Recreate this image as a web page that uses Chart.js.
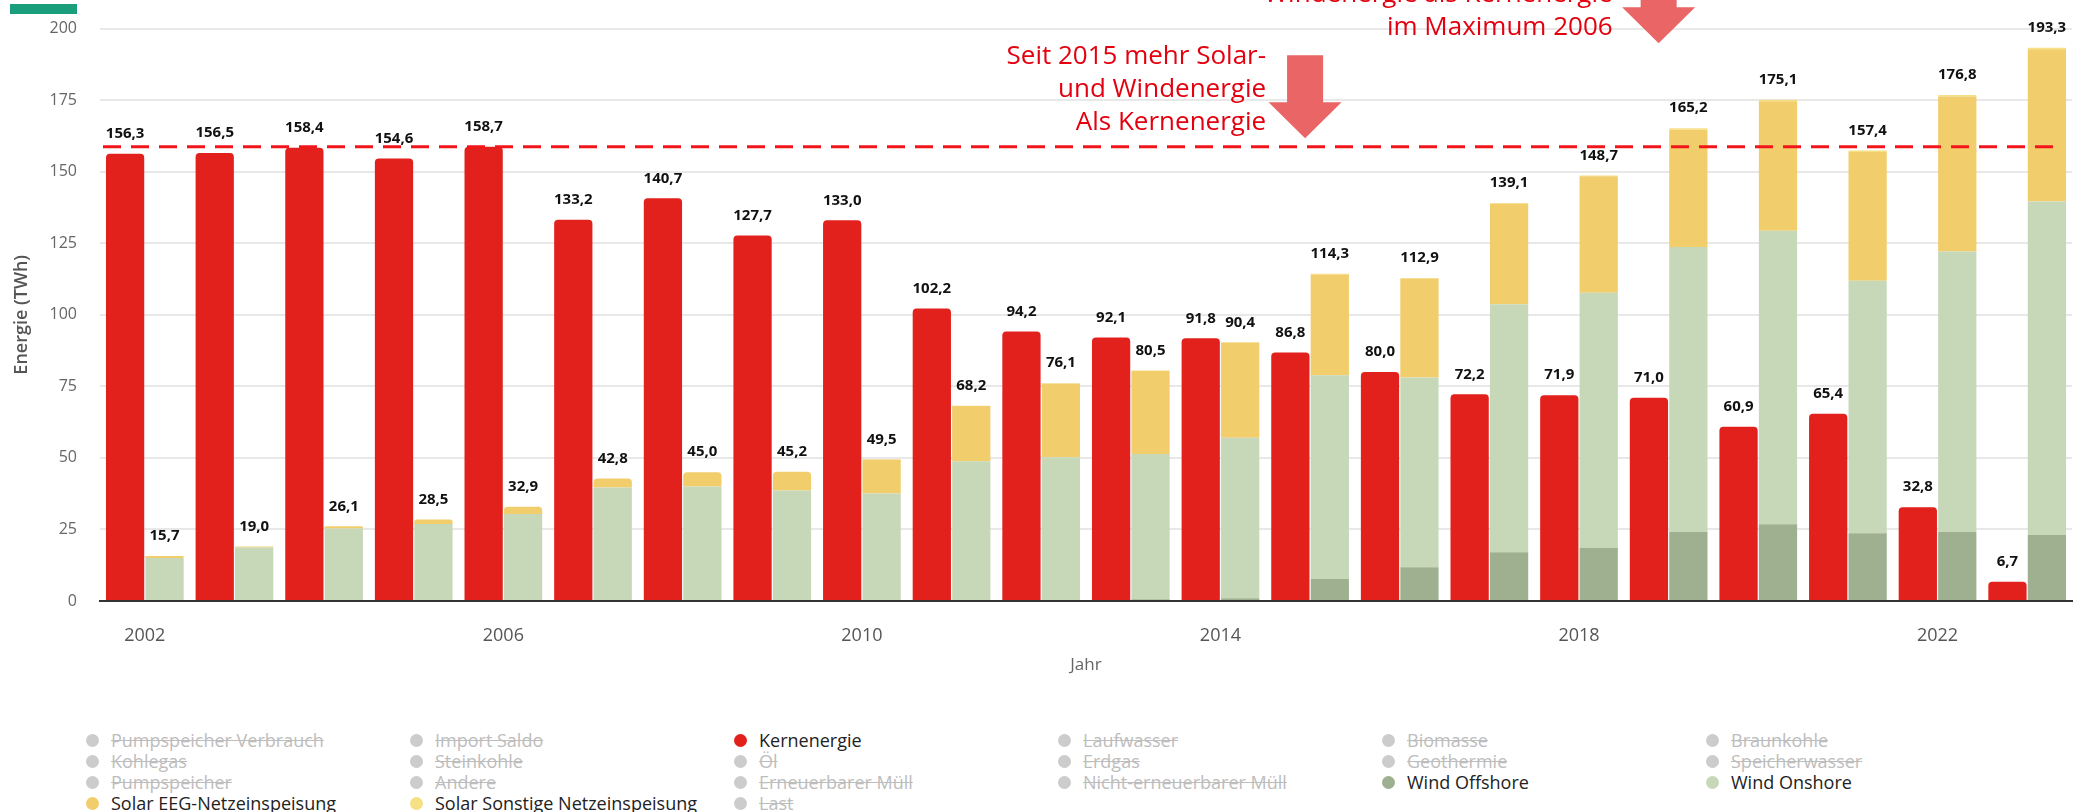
<!DOCTYPE html>
<html>
<head>
<meta charset="utf-8">
<script src="https://cdn.jsdelivr.net/npm/chart.js@4.4.1/dist/chart.umd.min.js"></script>
<style>
body { margin: 0; background: #fff; font-family: "Open Sans", sans-serif; }
#wrap { position: relative; width: 2094px; height: 812px; overflow: hidden; }
#topbar { position: absolute; left: 10px; top: 4px; width: 67px; height: 10px; background: #1a9e7c; z-index: 2; }
#legend { position: absolute; left: 86px; top: 730px; display: grid; grid-template-columns: repeat(6, 324px); font-size: 18px; line-height: 21px; color: #222; }
.item { display: flex; align-items: center; white-space: nowrap; }
.dot { width: 13px; height: 13px; border-radius: 50%; margin-right: 12px; flex: none; }
.off { color: #bdbdbd; text-decoration: line-through; }
</style>
</head>
<body>
<div id="wrap">
  <div id="topbar"></div>
  <canvas id="cht-energie" width="2094" height="700"></canvas>
  <div id="legend"></div>
</div>
<script>
var years = ['2002', '2003', '2004', '2005', '2006', '2007', '2008', '2009', '2010', '2011', '2012',
             '2013', '2014', '2015', '2016', '2017', '2018', '2019', '2020', '2021', '2022', '2023'];
var xTickYears = ['2002', '2006', '2010', '2014', '2018', '2022'];

// TWh
var kernenergie   = [156.3, 156.5, 158.4, 154.6, 158.7, 133.2, 140.7, 127.7, 133.0, 102.2, 94.2,
                     92.1, 91.8, 86.8, 80.0, 72.2, 71.9, 71.0, 60.9, 65.4, 32.8, 6.7];
var windOffshore  = [0, 0, 0, 0, 0, 0, 0, 0, 0, 0, 0,
                     0.6, 1.0, 7.7, 11.8, 17.0, 18.6, 24.2, 26.8, 23.7, 24.2, 23.1];
var windOnshore   = [15.0, 18.7, 25.3, 26.9, 30.4, 39.7, 40.0, 38.6, 37.6, 48.8, 50.2,
                     50.8, 56.0, 71.2, 66.3, 86.7, 89.1, 99.5, 102.6, 88.2, 97.9, 116.5];
var solarEEG      = [0.7, 0.3, 0.8, 1.6, 2.5, 3.1, 5.0, 6.6, 11.8, 19.3, 25.8,
                     29.0, 33.3, 35.2, 34.6, 35.1, 40.7, 41.0, 45.2, 45.0, 54.2, 53.2];
var solarSonstige = [0, 0, 0, 0, 0, 0, 0, 0, 0.1, 0.1, 0.1,
                     0.1, 0.1, 0.2, 0.2, 0.3, 0.3, 0.5, 0.5, 0.5, 0.5, 0.5];

var legendNames = [
    'Pumpspeicher Verbrauch', 'Import Saldo', 'Kernenergie', 'Laufwasser', 'Biomasse', 'Braunkohle',
    'Kohlegas', 'Steinkohle', 'Öl', 'Erdgas', 'Geothermie', 'Speicherwasser',
    'Pumpspeicher', 'Andere', 'Erneuerbarer Müll', 'Nicht-erneuerbarer Müll', 'Wind Offshore', 'Wind Onshore',
    'Solar EEG-Netzeinspeisung', 'Solar Sonstige Netzeinspeisung', 'Last'
];

var colours = {
    'Kernenergie': '#e2201c',
    'Wind Offshore': '#9eb08f',
    'Wind Onshore': '#c7d8b9',
    'Solar EEG-Netzeinspeisung': '#f2cd6c',
    'Solar Sonstige Netzeinspeisung': '#f5e084'
};

var notes = [
    { year: '2015', tip: 161.7, dx: -5, textDx: -39, lines: ['Seit 2015 mehr Solar-', 'und Windenergie', 'Als Kernenergie'] },
    { year: '2019', tip: 194.9, dx: -10, textDx: -46, lines: ['Seit 2019 mehr Solar- und', 'Windenergie als Kernenergie', 'im Maximum 2006'] }
];

function fmt(v) { return v.toFixed(1).replace('.', ','); }

var refLine = {
    id: 'refLine',
    afterDatasetsDraw: function (chart) {
        var ctx = chart.ctx, a = chart.chartArea;
        var y = chart.scales.y.getPixelForValue(Math.max.apply(null, kernenergie));
        ctx.save();
        ctx.strokeStyle = '#f2161b';
        ctx.lineWidth = 3;
        ctx.setLineDash([18, 10]);
        ctx.beginPath();
        ctx.moveTo(a.left + 3, y);
        ctx.lineTo(a.right - 16, y);
        ctx.stroke();
        ctx.restore();
    }
};

var totals = {
    id: 'totals',
    afterDatasetsDraw: function (chart) {
        var ctx = chart.ctx, ys = chart.scales.y;
        ctx.save();
        ctx.font = 'bold 15px "Open Sans"';
        ctx.fillStyle = '#111';
        ctx.textAlign = 'center';
        ctx.textBaseline = 'middle';
        ['kern', 'ee'].forEach(function (stack) {
            years.forEach(function (yr, i) {
                var sum = 0, x = null;
                chart.data.datasets.forEach(function (ds, d) {
                    if (ds.stack !== stack || !ds.data[i]) return;
                    sum += ds.data[i];
                    x = chart.getDatasetMeta(d).data[i].x;
                });
                if (x === null) return;
                ctx.fillText(fmt(sum), x, ys.getPixelForValue(sum) - 20);
            });
        });
        ctx.restore();
    }
};

var arrows = {
    id: 'arrows',
    afterDraw: function (chart) {
        var ctx = chart.ctx, xs = chart.scales.x, ys = chart.scales.y;
        notes.forEach(function (n) {
            var tx = xs.getPixelForValue(years.indexOf(n.year)) + n.dx;
            var ty = ys.getPixelForValue(n.tip);
            ctx.save();
            ctx.fillStyle = '#e96566';
            ctx.beginPath();
            ctx.moveTo(tx, ty);
            ctx.lineTo(tx - 36.5, ty - 36);
            ctx.lineTo(tx - 18, ty - 36);
            ctx.lineTo(tx - 18, ty - 83);
            ctx.lineTo(tx + 18, ty - 83);
            ctx.lineTo(tx + 18, ty - 36);
            ctx.lineTo(tx + 36.5, ty - 36);
            ctx.closePath();
            ctx.fill();
            ctx.fillStyle = '#e3000f';
            ctx.font = '26px "Open Sans"';
            ctx.textAlign = 'right';
            ctx.textBaseline = 'middle';
            var last = n.lines.length - 1;
            n.lines.forEach(function (t, k) {
                ctx.fillText(t, tx + n.textDx, ty - 16 - (last - k) * 33);
            });
            ctx.restore();
        });
    }
};

function bar(label, data, stack) {
    return { label: label, data: data, stack: stack, backgroundColor: colours[label], borderRadius: 4,
             barPercentage: 0.97, categoryPercentage: 0.88 };
}

var chE = document.getElementById('cht-energie');
var chtEnergie = new Chart(chE, {
    type: 'bar',
    data: {
        labels: years,
        datasets: [
            bar('Kernenergie', kernenergie, 'kern'),
            bar('Wind Offshore', windOffshore, 'ee'),
            bar('Wind Onshore', windOnshore, 'ee'),
            bar('Solar EEG-Netzeinspeisung', solarEEG, 'ee'),
            bar('Solar Sonstige Netzeinspeisung', solarSonstige, 'ee')
        ]
    },
    options: {
        responsive: false,
        animation: false,
        layout: { padding: { top: 28.6, right: 22, left: 0, bottom: 0 } },
        plugins: { legend: { display: false }, tooltip: { enabled: false } },
        scales: {
            x: {
                stacked: true,
                afterFit: function (s) { s.height = 99; },
                grid: { display: true, color: 'transparent', drawTicks: false },
                border: { display: true, color: '#333', width: 2 },
                ticks: {
                    autoSkip: false, maxRotation: 0, padding: 24, color: '#555',
                    font: { family: 'Open Sans', size: 18 },
                    callback: function (v, i) { return xTickYears.indexOf(years[i]) >= 0 ? years[i] : ''; }
                },
                title: { display: true, text: 'Jahr', color: '#666', font: { family: 'Open Sans', size: 17 },
                         padding: { top: 0, bottom: 25 } }
            },
            y: {
                stacked: true,
                min: 0, max: 200,
                afterFit: function (s) { s.width = 100; s.paddingTop = 10; s.paddingBottom = 10; },
                grid: { color: '#e8e8e8', lineWidth: 2, drawTicks: false },
                border: { display: false },
                ticks: { stepSize: 25, padding: 23, color: '#666', font: { family: 'Open Sans', size: 16 },
                         callback: function (v) { return String(v); } },
                title: { display: true, text: 'Energie (TWh)', color: '#555',
                         font: { family: 'Open Sans', size: 18, weight: '600' }, padding: { top: 11, bottom: 0 } }
            }
        }
    },
    plugins: [refLine, totals, arrows]
});

var lg = document.getElementById('legend');
legendNames.forEach(function (name) {
    var on = colours[name];
    var item = document.createElement('div');
    item.className = 'item' + (on ? '' : ' off');
    var dot = document.createElement('span');
    dot.className = 'dot';
    dot.style.background = on || '#cccccc';
    var txt = document.createElement('span');
    txt.textContent = name;
    item.appendChild(dot);
    item.appendChild(txt);
    lg.appendChild(item);
});
</script>
</body>
</html>
